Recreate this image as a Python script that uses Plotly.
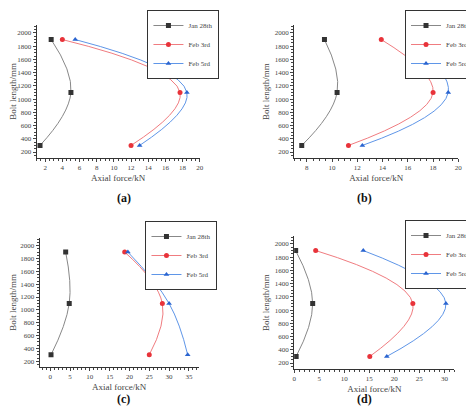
import plotly.graph_objects as go

bolt_length = [300, 1100, 1900]
series_names = ["Jan 28th", "Feb 3rd", "Feb 5rd"]
panel_labels = ["(a)", "(b)", "(c)", "(d)"]
jan_a = [1.4, 5.0, 2.7]; feb3_a = [12.0, 17.7, 4.0]; feb5_a = [13.0, 18.5, 5.5]
jan_b = [7.6, 10.4, 9.4]; feb3_b = [11.3, 18.0, 13.9]; feb5_b = [12.4, 19.2, 16.0]
jan_c = [0.2, 4.8, 3.9]; feb3_c = [25.0, 28.3, 18.8]; feb5_c = [34.7, 30.0, 19.6]
jan_d = [0.4, 3.7, 0.3]; feb3_d = [15.1, 23.7, 4.3]; feb5_d = [18.5, 30.3, 13.8]
panels = [(jan_a, feb3_a, feb5_a), (jan_b, feb3_b, feb5_b), (jan_c, feb3_c, feb5_c), (jan_d, feb3_d, feb5_d)]

W, H = 474, 411
boxes = [(25, 191, 17, 150), (287, 454, 17, 150), (28, 190, 230, 359), (287, 450, 228, 361)]
xranges = [[1, 20], [7, 20], [-2.7, 37.5], [0, 32]]
xdticks = [2, 2, 5, 5]
xtick0 = [2, 8, 0, 0]
legpos = [(211, 2), (473, 2), (209, 213), (473, 212)]
labelpos = [(105, 190), (368, 190), (105, 400), (368, 400)]
colors = ["#333333", "#e8333a", "#2a64d0"]
lines = ["#888888", "#f07c80", "#5f96e8"]
symbols = ["square", "circle", "triangle-up"]
font = "Liberation Serif"

fig = go.Figure()
for i, data in enumerate(panels):
    ax = "" if i == 0 else str(i + 1)
    lg = "legend" if i == 0 else "legend" + str(i + 1)
    for j, xs in enumerate(data):
        fig.add_trace(go.Scatter(
            x=xs, y=bolt_length, mode="lines+markers", name=series_names[j],
            line=dict(color=lines[j], width=1, shape="spline", smoothing=1.2),
            marker=dict(symbol=symbols[j], color=colors[j], size=5),
            xaxis="x" + ax, yaxis="y" + ax, legend=lg))
    x0, x1, y0, y1 = boxes[i]
    common = dict(showline=True, linecolor="#333", linewidth=1, ticks="outside", ticklen=3,
                  tickfont=dict(family=font, size=7, color="#444"), showgrid=False, zeroline=False,
                  minor=dict(ticks="outside", ticklen=2, showgrid=False))
    fig.layout["xaxis" + ax] = dict(domain=[x0 / W, x1 / W], range=xranges[i], tick0=xtick0[i],
                                    dtick=xdticks[i], anchor="y" + ax,
                                    title=dict(text="Axial force/kN", font=dict(family=font, size=9, color="#444"), standoff=3),
                                    **common)
    fig.layout["yaxis" + ax] = dict(domain=[1 - y1 / H, 1 - y0 / H], range=[110, 2120], dtick=200, tick0=0,
                                    anchor="x" + ax,
                                    title=dict(text="Bolt length/mm", font=dict(family=font, size=9, color="#444"), standoff=3),
                                    **common)
    lx, ly = legpos[i]
    fig.layout[lg] = dict(x=lx / W, y=1 - ly / H, xanchor="right", yanchor="top",
                          bordercolor="#333", borderwidth=1, bgcolor="white",
                          font=dict(family=font, size=7, color="#444"), tracegroupgap=0,
                          itemwidth=30)
    px, py = labelpos[i]
    fig.add_annotation(text="<b>" + panel_labels[i] + "</b>", x=px / W, y=1 - py / H, xref="paper", yref="paper",
                       showarrow=False, font=dict(family=font, size=12, color="#111"))

fig.update_layout(width=W, height=H, margin=dict(l=0, r=0, t=0, b=0), plot_bgcolor="white",
                  paper_bgcolor="white", showlegend=True)
fig.write_html("out.html")
